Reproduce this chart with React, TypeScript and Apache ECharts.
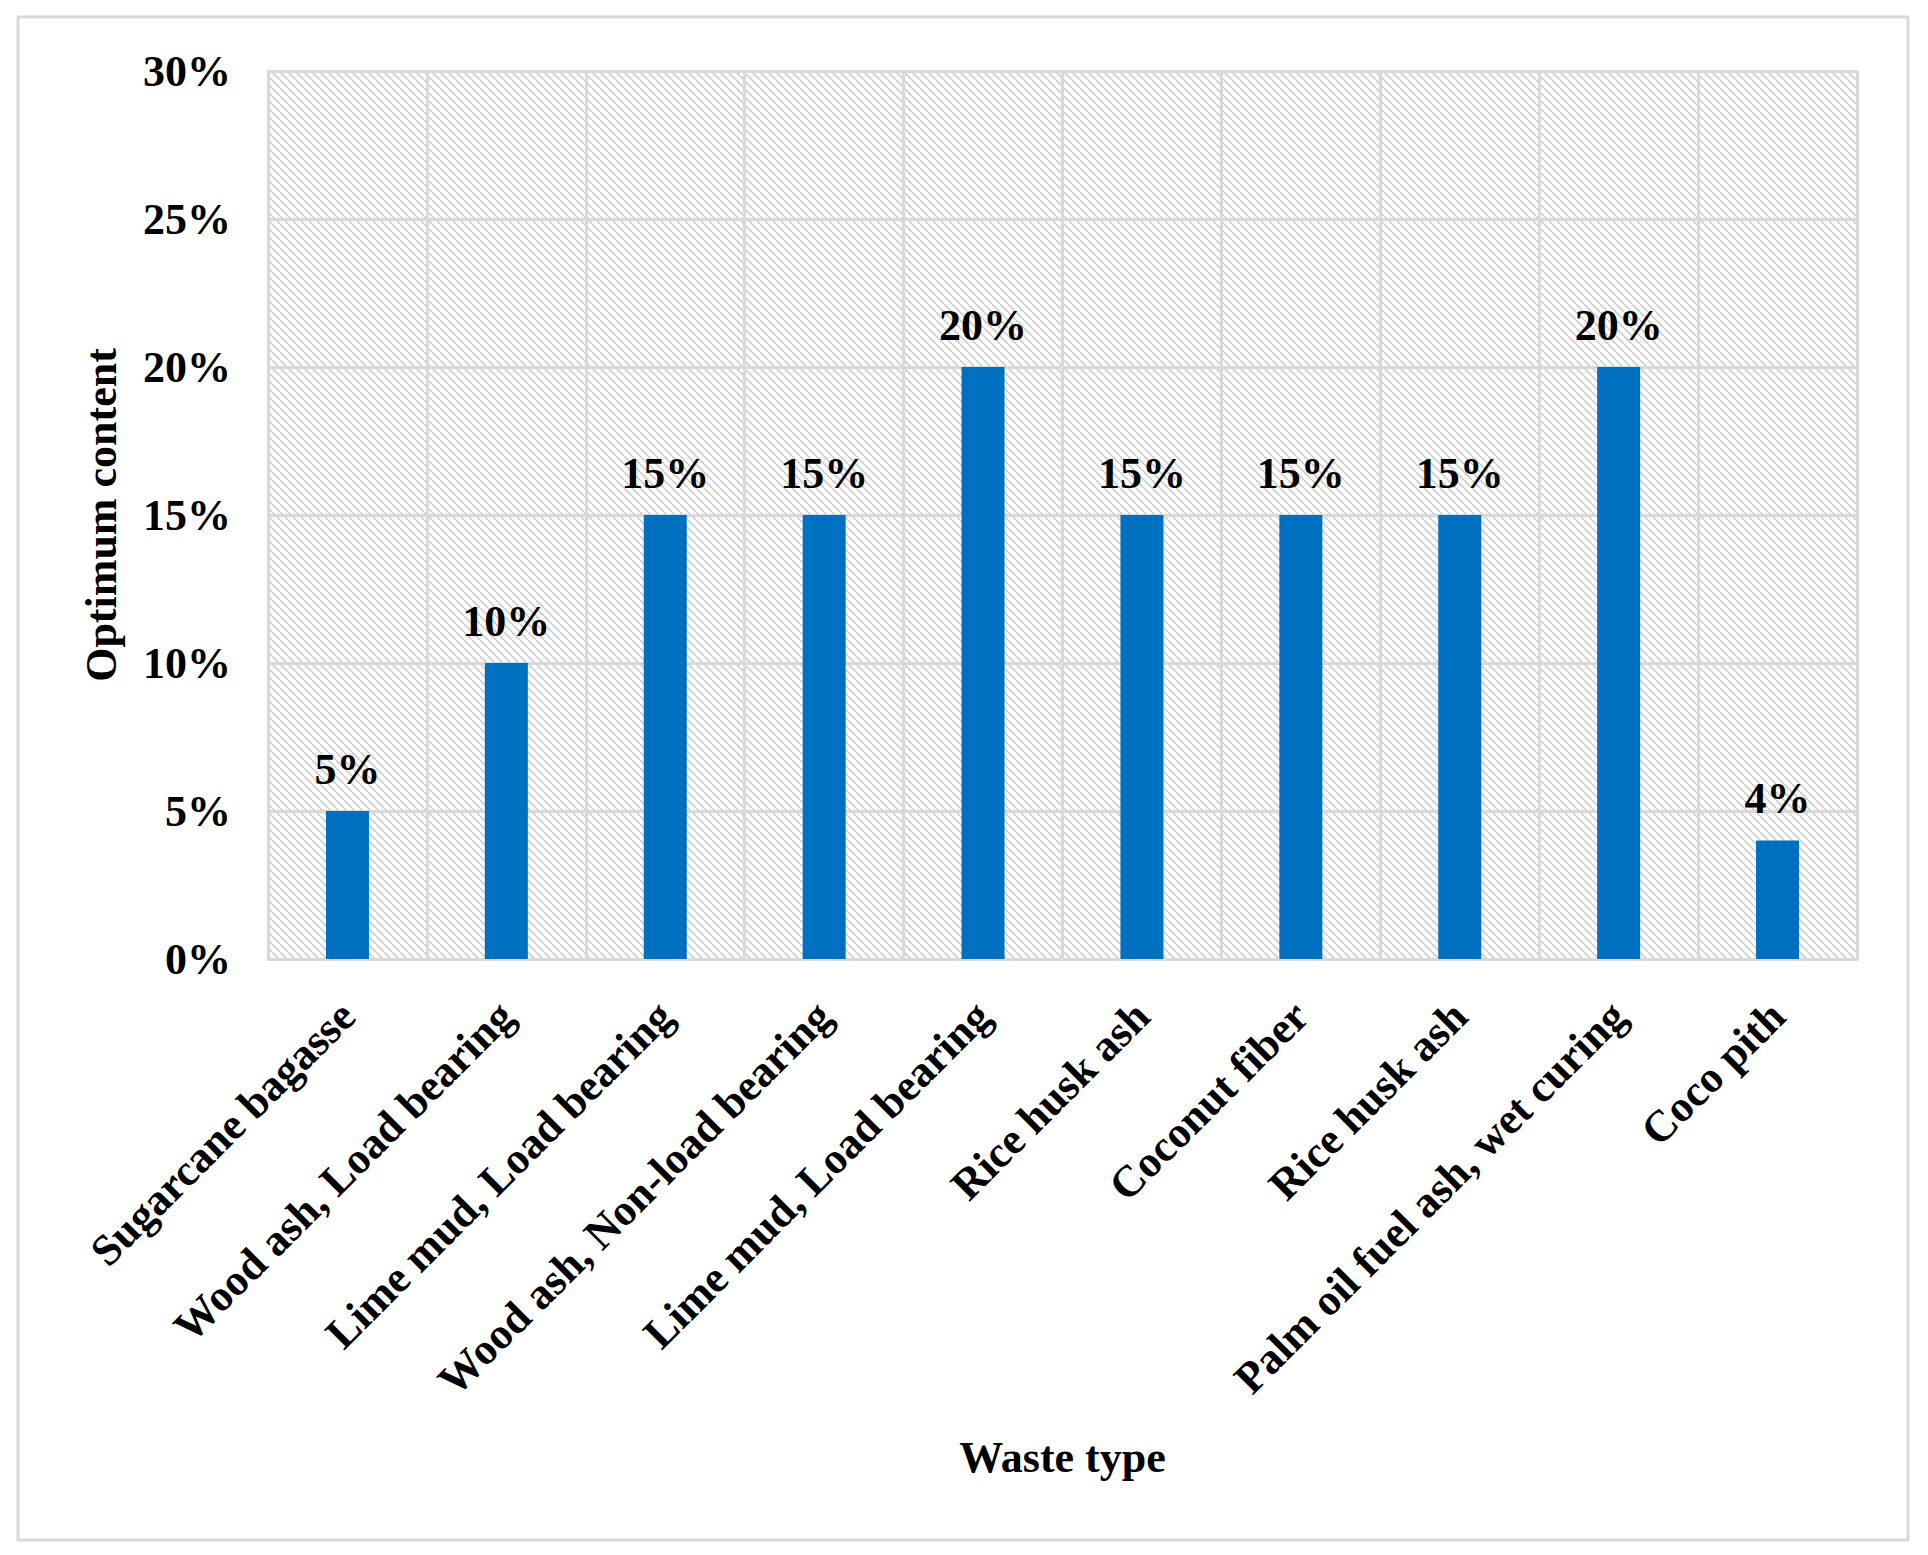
import React, { useEffect, useRef } from "react";
import * as echarts from "echarts";

const categories = [
  "Sugarcane bagasse",
  "Wood ash, Load bearing",
  "Lime mud, Load bearing",
  "Wood ash, Non-load bearing",
  "Lime mud, Load bearing",
  "Rice husk ash",
  "Coconut fiber",
  "Rice husk ash",
  "Palm oil fuel ash, wet curing",
  "Coco pith",
];
const values = [5, 10, 15, 15, 20, 15, 15, 15, 20, 4];
const yTicks = [0, 5, 10, 15, 20, 25, 30];

const FONT = "'Liberation Serif', 'Times New Roman', serif";
const FS = 44;

function makeHatch(): HTMLCanvasElement {
  const s = 8;
  const c = document.createElement("canvas");
  c.width = s;
  c.height = s;
  const ctx = c.getContext("2d")!;
  ctx.fillStyle = "#ffffff";
  ctx.fillRect(0, 0, s, s);
  ctx.strokeStyle = "#cdcdcd";
  ctx.lineWidth = 1.6;
  for (let k = -1; k <= 1; k++) {
    ctx.beginPath();
    ctx.moveTo(k * s, 0);
    ctx.lineTo(k * s + s, s);
    ctx.stroke();
  }
  return c;
}

export default function App() {
  const ref = useRef<HTMLDivElement>(null);
  useEffect(() => {
    document.body.style.margin = "0";
    const chart = echarts.init(ref.current!, undefined, { renderer: "svg" });
    const hatch = makeHatch();
    const txt = { fontFamily: FONT, fontWeight: "bold", fontSize: FS, color: "#000" };
    chart.setOption({
      animation: false,
      backgroundColor: "#ffffff",
      graphic: [
        {
          type: "rect",
          shape: { x: 18, y: 17, width: 1890, height: 1523 },
          style: { fill: "none", stroke: "#d9d9d9", lineWidth: 3 },
          z: -1,
        },
      ],
      grid: {
        left: 268,
        top: 71,
        right: 71,
        bottom: 596,
        show: true,
        borderWidth: 0,
        backgroundColor: { image: hatch, repeat: "repeat" },
      },
      xAxis: {
        type: "category",
        data: categories,
        name: "Waste type",
        nameLocation: "middle",
        nameGap: 476,
        nameTextStyle: txt,
        axisLine: { show: true, lineStyle: { color: "#d9d9d9", width: 3 } },
        axisTick: { show: false },
        splitLine: { show: true, lineStyle: { color: "#d9d9d9", width: 3 } },
        axisLabel: {
          rotate: 45,
          interval: 0,
          margin: 50,
          ...txt,
        },
      },
      yAxis: {
        type: "value",
        min: yTicks[0],
        max: yTicks[yTicks.length - 1],
        interval: 5,
        name: "Optimum content",
        nameLocation: "middle",
        nameGap: 145,
        nameTextStyle: txt,
        axisLine: { show: true, lineStyle: { color: "#d9d9d9", width: 3 } },
        axisTick: { show: false },
        splitLine: { show: true, lineStyle: { color: "#d9d9d9", width: 3 } },
        axisLabel: {
          margin: 37,
          formatter: "{value}%",
          ...txt,
        },
      },
      series: [
        {
          type: "bar",
          data: values,
          barWidth: 43,
          itemStyle: { color: "#0070C0" },
          label: {
            show: true,
            position: "top",
            distance: 20,
            formatter: "{c}%",
            ...txt,
          },
        },
      ],
    });
    return () => chart.dispose();
  }, []);
  return <div ref={ref} style={{ width: 1928, height: 1555 }} />;
}
